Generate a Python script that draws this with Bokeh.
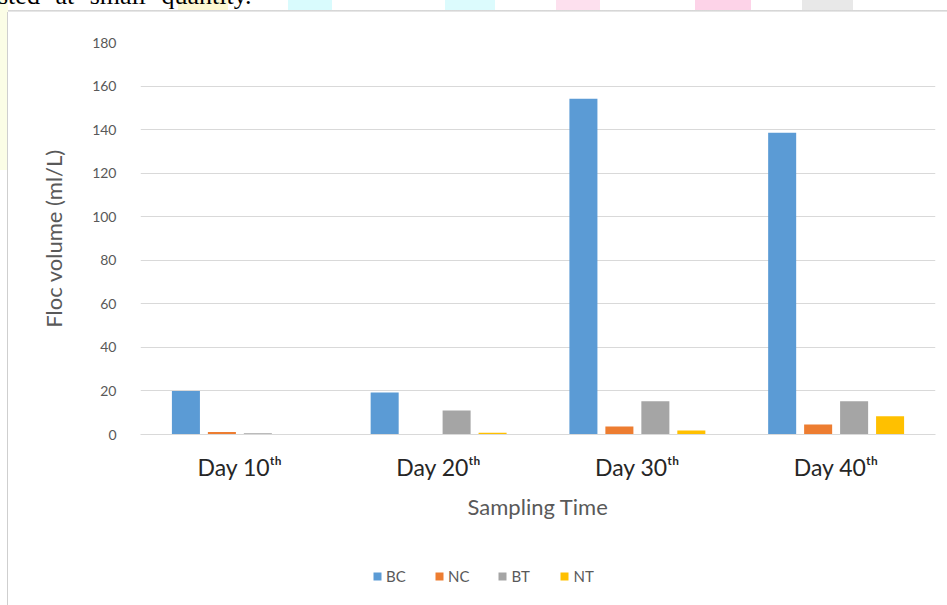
from bokeh.plotting import figure
from bokeh.models import (ColumnDataSource, FactorRange, Range1d, FixedTicker,
                          Legend, LegendItem, Div)
from bokeh.layouts import column, row
from bokeh.transform import dodge
from bokeh.embed import file_html
from bokeh.resources import INLINE

# ---- data ----
days = ["Day 10\u1d57\u02b0", "Day 20\u1d57\u02b0", "Day 30\u1d57\u02b0", "Day 40\u1d57\u02b0"]
series = ["BC", "NC", "BT", "NT"]
bc = [20.0, 19.3, 154.2, 138.6]
nc = [1.2, 0.0, 3.7, 4.6]
bt = [0.6, 11.0, 15.3, 15.3]
nt = [0.0, 0.8, 1.8, 8.4]
colors = ["#5B9BD5", "#ED7D31", "#A5A5A5", "#FFC000"]
y_ticks = [0, 20, 40, 60, 80, 100, 120, 140, 160, 180]

src = ColumnDataSource(dict(day=days, BC=bc, NC=nc, BT=bt, NT=nt))

FONT = "Lato"

p = figure(x_range=FactorRange(factors=days), y_range=Range1d(0, 180),
           width=939, height=548, output_backend="svg", toolbar_location=None,
           min_border_left=132, min_border_right=12, min_border_top=30,
           min_border_bottom=126, margin=(0, 0, 0, 0))
p.outline_line_color = None
p.background_fill_color = "white"
p.border_fill_color = "white"

step = 0.181
width = 0.141
offsets = [-1.5 * step, -0.5 * step, 0.5 * step, 1.5 * step]
for s, c, off in zip(series, colors, offsets):
    p.vbar(x=dodge("day", off, range=p.x_range), top=s, width=width,
           source=src, fill_color=c, line_color=None)

# axes
p.xgrid.grid_line_color = None
p.ygrid.grid_line_color = "#d9d9d9"
p.ygrid.grid_line_width = 1
p.yaxis.ticker = FixedTicker(ticks=y_ticks)
p.yaxis.axis_line_color = None
p.yaxis.major_tick_line_color = None
p.yaxis.minor_tick_line_color = None
p.yaxis.major_label_text_font = FONT
p.yaxis.major_label_text_font_size = "14px"
p.yaxis.major_label_text_color = "#595959"
p.yaxis.major_label_standoff = 18
p.yaxis.axis_label = "Floc volume (ml/L)"
p.yaxis.axis_label_text_font = FONT
p.yaxis.axis_label_text_font_style = "normal"
p.yaxis.axis_label_text_font_size = "22px"
p.yaxis.axis_label_text_color = "#595959"
p.yaxis.axis_label_standoff = 22

p.xaxis.axis_line_color = "#d9d9d9"
p.xaxis.major_tick_line_color = None
p.xaxis.minor_tick_line_color = None
p.xaxis.major_label_text_font = FONT
p.xaxis.major_label_text_font_size = "23px"
p.xaxis.major_label_text_color = "#262626"
p.xaxis.major_label_standoff = 12
p.xaxis.axis_label = "Sampling Time"
p.xaxis.axis_label_text_font = FONT
p.xaxis.axis_label_text_font_style = "normal"
p.xaxis.axis_label_text_font_size = "22px"
p.xaxis.axis_label_text_color = "#595959"
p.xaxis.axis_label_standoff = 9

# legend strip (separate small figure so the legend is not clipped)
p2 = figure(width=939, height=45, output_backend="svg", toolbar_location=None,
            x_range=Range1d(0, 1), y_range=Range1d(0, 1),
            min_border=0, margin=(0, 0, 0, 0))
p2.axis.visible = False
p2.grid.visible = False
p2.outline_line_color = None
p2.background_fill_color = "white"
p2.border_fill_color = "white"
# zero-size placeholder glyphs that only carry the legend colours
dummies = [p2.vbar(x=[0], top=[0], width=0, fill_color=c, line_color=None) for c in colors]
legend = Legend(items=[LegendItem(label=s, renderers=[r]) for s, r in zip(series, dummies)],
                orientation="horizontal", location=(232, 20), margin=0,
                glyph_width=10, glyph_height=10, label_standoff=4, spacing=28,
                padding=4, border_line_color=None,
                background_fill_alpha=0,
                label_text_font=FONT, label_text_font_size="15px",
                label_text_color="#595959")
p2.add_layout(legend, "center")

top_html = (
    '<div style="position:relative;width:947px;height:12px;overflow:hidden;background:#fff;">'
    '<div style="position:absolute;left:0;top:0;width:8px;height:12px;background:#fbfde6"></div>'
    '<div style="position:absolute;left:178px;top:0;width:50px;height:10px;background:#fdf8d2"></div>'
    '<div style="position:absolute;left:288px;top:0;width:44px;height:10px;background:#d9fbfd"></div>'
    '<div style="position:absolute;left:445px;top:0;width:50px;height:10px;background:#dcfbfd"></div>'
    '<div style="position:absolute;left:556px;top:0;width:44px;height:10px;background:#fde0ee"></div>'
    '<div style="position:absolute;left:695px;top:0;width:56px;height:10px;background:#fdd3e8"></div>'
    '<div style="position:absolute;left:802px;top:0;width:51px;height:10px;background:#e8e8e8"></div>'
    '<div style="position:absolute;left:-2px;top:-17px;font-family:\'Liberation Serif\';'
    'font-size:26px;line-height:26px;word-spacing:9px;white-space:nowrap;color:#000;">'
    'sted at small quantity.</div>'
    '<div style="position:absolute;left:8px;top:10px;width:939px;height:2px;'
    'background:linear-gradient(#cfcfcf,#eeeeee)"></div>'
    '</div>')
top = Div(text=top_html, width=947, height=12, margin=(0, 0, 0, 0))

left_html = (
    '<div style="position:relative;width:8px;height:593px;background:#fff;">'
    '<div style="position:absolute;left:0;top:0;width:7px;height:158px;background:#fbfde6"></div>'
    '<div style="position:absolute;left:7px;top:0;width:1px;height:593px;background:#cfcfcf"></div>'
    '</div>')
left = Div(text=left_html, width=8, height=593, margin=(0, 0, 0, 0))

layout = column(top,
                row(left, column(p, p2, spacing=0, margin=(0, 0, 0, 0)),
                    spacing=0, margin=(0, 0, 0, 0)),
                spacing=0, margin=(0, 0, 0, 0))

open("out.html", "w").write(file_html(layout, INLINE))
